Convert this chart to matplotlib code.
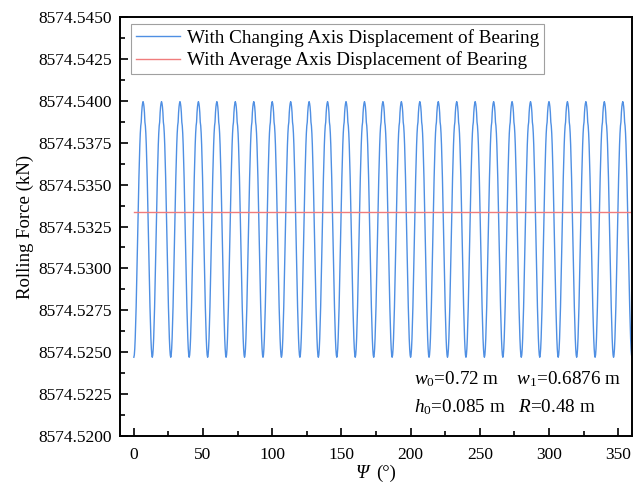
import numpy as np
import matplotlib
matplotlib.use('Agg')
import matplotlib.pyplot as plt
from matplotlib.ticker import MultipleLocator, FormatStrFormatter

plt.rcParams['font.family'] = ['Liberation Serif', 'DejaVu Serif']
plt.rcParams['mathtext.fontset'] = 'custom'
plt.rcParams['mathtext.rm'] = 'Liberation Serif'
plt.rcParams['mathtext.it'] = 'Liberation Serif:italic'

# rolling force over half a bearing cycle, trough -> crest (kN)
half_cycle = [8574.52470, 8574.52483, 8574.52521, 8574.52583, 8574.52667,
              8574.52770, 8574.52888, 8574.53017, 8574.53152, 8574.53288,
              8574.53419, 8574.53541, 8574.53648, 8574.53737, 8574.53806,
              8574.53851, 8574.53873, 8574.53930, 8574.53965, 8574.53985,
              8574.53995]
n_cycles = 27
avg_force = 8574.53335
angle_range = [0, 360]

cycle = half_cycle + half_cycle[-2:0:-1]
force = np.array(cycle * n_cycles + [half_cycle[0]])
psi = np.linspace(angle_range[0], angle_range[1], len(force))

fig = plt.figure(figsize=(6.4, 4.82), dpi=100)
ax = fig.add_axes([0.1875, 0.0954, 0.8, 0.8693])

ax.plot(psi, force, color='#4f8fe3', lw=1.0,
        label='With Changing Axis Displacement of Bearing')
ax.plot(angle_range, [avg_force, avg_force], color='#f07c7c', lw=1.0,
        label='With Average Axis Displacement of Bearing')

ax.set_xlim(-10, 360)
ax.set_ylim(8574.5200, 8574.5450)
ax.xaxis.set_major_locator(MultipleLocator(50))
ax.xaxis.set_minor_locator(MultipleLocator(25))
ax.yaxis.set_major_locator(MultipleLocator(0.0025))
ax.yaxis.set_minor_locator(MultipleLocator(0.00125))
ax.yaxis.set_major_formatter(FormatStrFormatter('%.4f'))

ax.tick_params(which='both', direction='in', top=False, right=False,
               labelsize=12.5, width=1.2)
ax.tick_params(axis='y', which='major', pad=6)
ax.tick_params(axis='x', which='major', pad=8)
ax.tick_params(which='major', length=6)
ax.tick_params(which='minor', length=3.5)
for sp in ax.spines.values():
    sp.set_linewidth(1.4)

ax.set_ylabel('Rolling Force (kN)', fontsize=13.5, labelpad=3)

# x label: italic Psi followed by upright unit
ax.text(0.473, -0.09, 'Ψ', style='italic', fontsize=13.5,
        transform=ax.transAxes, ha='center', va='center')
ax.text(0.500, -0.09, '(°)', fontsize=13.5,
        transform=ax.transAxes, ha='left', va='center')

leg = ax.legend(loc='upper left', bbox_to_anchor=(0.0215, 0.983), fontsize=13.75,
                frameon=True, fancybox=False, edgecolor='#888888',
                handlelength=2.3, handletextpad=0.4, borderpad=0.25,
                labelspacing=0.25, borderaxespad=0.0)
leg.get_frame().set_linewidth(0.8)

ax.text(0.575, 0.135, r'$\mathit{w}_\mathrm{0}$=0.72 m    $\mathit{w}_\mathrm{1}$=0.6876 m',
        transform=ax.transAxes, fontsize=13.75, ha='left', va='center')
ax.text(0.575, 0.068, r'$\mathit{h}_\mathrm{0}$=0.085 m   $\mathit{R}$=0.48 m',
        transform=ax.transAxes, fontsize=13.75, ha='left', va='center')

fig.savefig('out.png', dpi=100)
